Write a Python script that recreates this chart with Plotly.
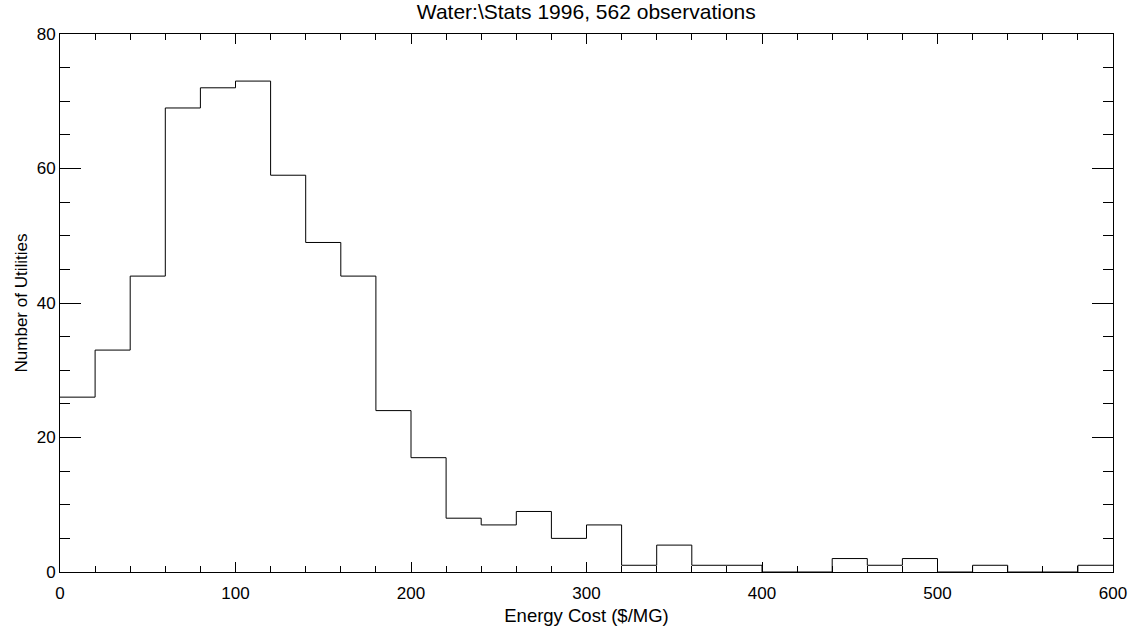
import plotly.graph_objects as go

# Histogram bins of Energy Cost ($/MG), width 20, from 0 to 600
bin_width = 20
bin_starts = [0, 20, 40, 60, 80, 100, 120, 140, 160, 180,
              200, 220, 240, 260, 280, 300, 320, 340, 360, 380,
              400, 420, 440, 460, 480, 500, 520, 540, 560, 580]
counts = [26, 33, 44, 69, 72, 73, 59, 49, 44, 24,
          17, 8, 7, 9, 5, 7, 1, 4, 1, 1,
          0, 0, 2, 1, 2, 0, 1, 0, 0, 1]

x_vals = bin_starts + [bin_starts[-1] + bin_width]
y_vals = counts + [counts[-1]]

x_tickvals = [0, 100, 200, 300, 400, 500, 600]
y_tickvals = [0, 20, 40, 60, 80]

FONT = "Liberation Sans, Arial, sans-serif"

fig = go.Figure()
fig.add_trace(go.Scatter(
    x=x_vals, y=y_vals, mode="lines",
    line=dict(shape="hv", color="black", width=1),
    showlegend=False, hoverinfo="skip",
))

fig.update_layout(
    width=1133, height=633,
    margin=dict(l=60, r=20, t=34, b=61, autoexpand=False),
    paper_bgcolor="white", plot_bgcolor="white",
    font=dict(family=FONT, size=18, color="black"),
    title=dict(text="Water:\\Stats 1996, 562 observations",
               x=0.5175, xanchor="center", y=1 - 12 / 633, yanchor="middle",
               yref="container", font=dict(family=FONT, size=21, color="black")),
)

fig.update_xaxes(
    range=[0, 600], tickvals=x_tickvals, ticktext=[str(v) for v in x_tickvals],
    showgrid=False, zeroline=False, automargin=False,
    showline=True, linecolor="black", linewidth=1, mirror="ticks",
    ticks="inside", ticklen=10, tickwidth=1, tickcolor="black",
    minor=dict(dtick=20, ticks="inside", ticklen=6, tickwidth=1, tickcolor="black", showgrid=False),
    ticklabelstandoff=6,
    title=dict(text="Energy Cost ($/MG)", standoff=6, font=dict(size=18.5)),
    tickfont=dict(size=17),
)
fig.update_yaxes(
    range=[0, 80], tickvals=y_tickvals, ticktext=[str(v) for v in y_tickvals],
    showgrid=False, zeroline=False, automargin=False,
    showline=True, linecolor="black", linewidth=1, mirror="ticks",
    ticks="inside", ticklen=21, tickwidth=1, tickcolor="black",
    minor=dict(dtick=5, ticks="inside", ticklen=10, tickwidth=1, tickcolor="black", showgrid=False),
    ticklabelstandoff=0,
    title=dict(text="Number of Utilities", standoff=4, font=dict(size=17)),
    tickfont=dict(size=17),
)

fig.write_html("out.html",
               config={"displayModeBar": False},
               post_script="document.body.style.margin='0';document.body.style.overflow='hidden';")
